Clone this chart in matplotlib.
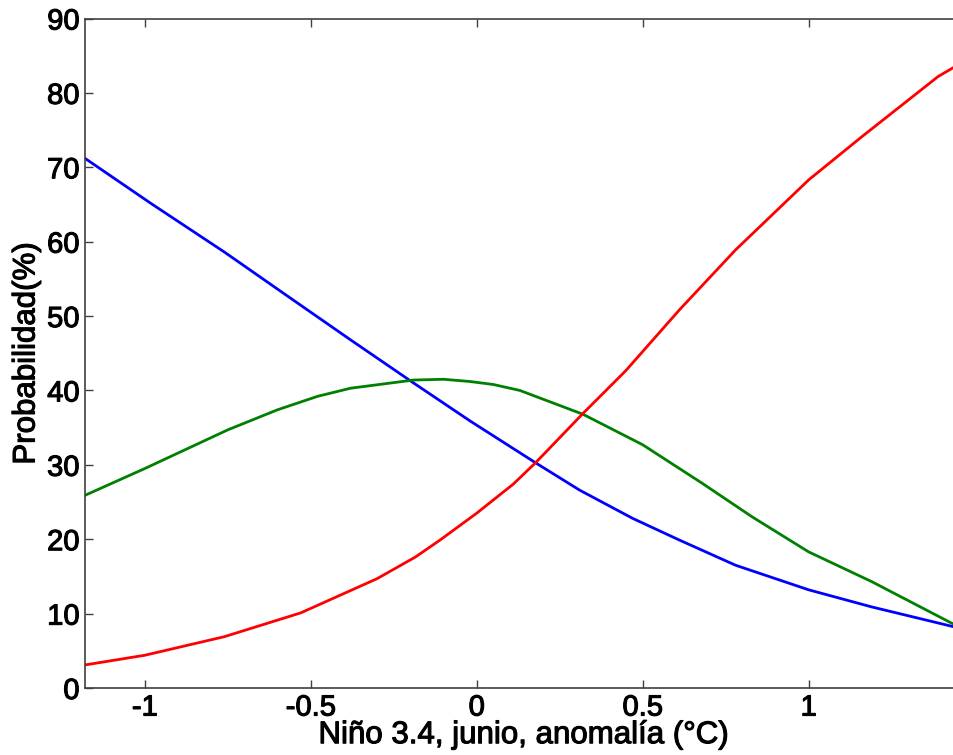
import numpy as np
import matplotlib
matplotlib.use('Agg')
from matplotlib import pyplot as plt
from matplotlib import patheffects as pe

# values
blue_x = [-1.18, -0.98, -0.76, -0.58, -0.38, -0.19, -0.02, 0.18, 0.31, 0.47, 0.61, 0.78, 1.0, 1.19, 1.44]
blue_y = [71.2, 65.1, 58.6, 53.0, 46.8, 41.0, 35.9, 30.2, 26.6, 22.8, 19.9, 16.5, 13.2, 10.9, 8.2]

green_x = [-1.18, -1.0, -0.75, -0.6, -0.48, -0.38, -0.19, -0.1, -0.02, 0.05, 0.13, 0.32, 0.5, 0.68, 0.83, 1.0, 1.19, 1.44]
green_y = [25.9, 29.5, 34.7, 37.4, 39.2, 40.3, 41.4, 41.5, 41.2, 40.8, 40.0, 36.8, 32.7, 27.5, 23.0, 18.3, 14.3, 8.5]

red_x = [-1.18, -1.0, -0.76, -0.53, -0.38, -0.3, -0.185, -0.11, 0.0, 0.11, 0.18, 0.32, 0.45, 0.61, 0.78, 1.0, 1.16, 1.39, 1.44]
red_y = [3.1, 4.4, 6.9, 10.1, 13.1, 14.7, 17.6, 19.9, 23.5, 27.4, 30.4, 36.9, 42.7, 50.8, 58.9, 68.3, 74.1, 82.2, 83.5]

xticks = [-1, -0.5, 0, 0.5, 1]
xticklabels = ['-1', '-0.5', '0', '0.5', '1']
yticks = [0, 10, 20, 30, 40, 50, 60, 70, 80, 90]

plt.rcParams['font.family'] = ['Liberation Sans', 'DejaVu Sans']

fig = plt.figure(figsize=(9.54, 7.55), dpi=100)
# axes run a little past the right edge, the reference is cropped there
ax = fig.add_axes([85/954, 67/755, 877/954, 669.5/755])

ax.plot(blue_x, blue_y, color=(0, 0, 1), lw=2)
ax.plot(green_x, green_y, color=(0, 0.5, 0), lw=2)
ax.plot(red_x, red_y, color=(1, 0, 0), lw=2)

ax.set_xlim(-1.18, 1.462)
ax.set_ylim(0, 90)
ax.set_xticks(xticks)
ax.set_xticklabels(xticklabels)
ax.set_yticks(yticks)
ax.tick_params(direction='in', length=6, width=1, color='#404040',
               top=True, right=True, labelsize=21, pad=4)
for s in ax.spines.values():
    s.set_color('#404040')
    s.set_linewidth(1.2)

ax.set_xlabel('Niño 3.4, junio, anomalía (°C)', fontsize=22.5, labelpad=-1)
ax.set_ylabel('Probabilidad(%)', fontsize=22.5, labelpad=4)

# the reference text is rendered a bit heavier than plain regular
thick = [pe.withStroke(linewidth=0.8, foreground='black')]
for t in ax.get_xticklabels() + ax.get_yticklabels() + [ax.xaxis.label, ax.yaxis.label]:
    t.set_path_effects(thick)

fig.savefig('out.png', dpi=100)
